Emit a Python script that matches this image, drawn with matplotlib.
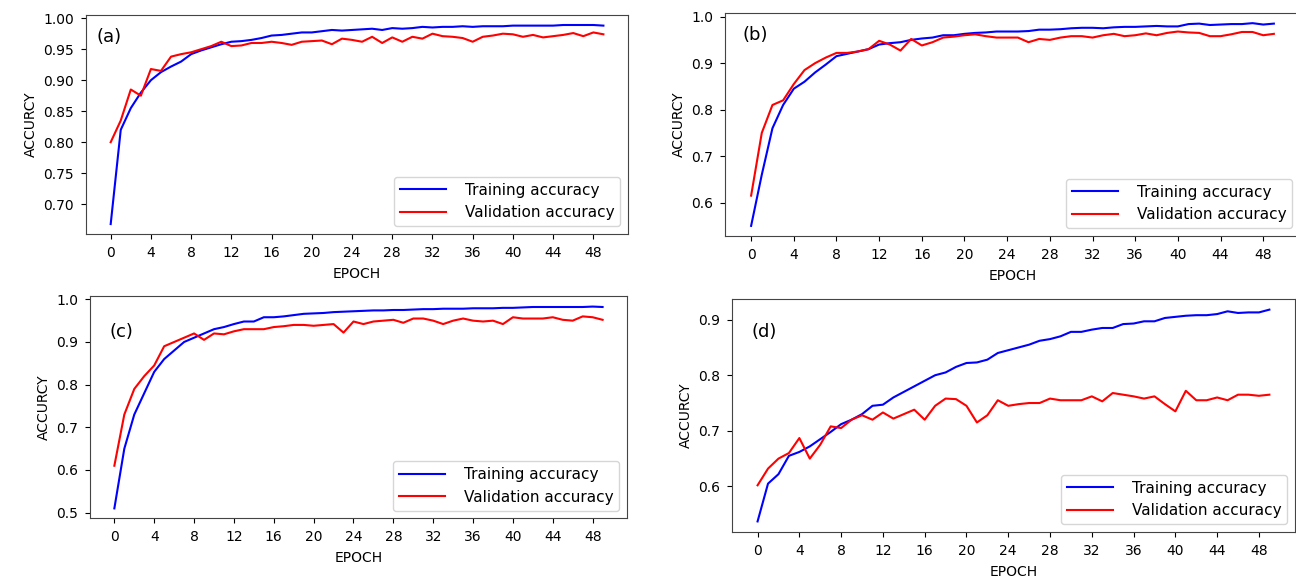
import numpy as np
import matplotlib.pyplot as plt

epochs = np.arange(50)

train_a = [0.668, 0.82, 0.855, 0.88, 0.90, 0.913, 0.922, 0.93, 0.942, 0.948,
           0.953, 0.958, 0.962, 0.963, 0.965, 0.968, 0.972, 0.973, 0.975, 0.977,
           0.977, 0.979, 0.981, 0.980, 0.981, 0.982, 0.983, 0.981, 0.984, 0.983,
           0.984, 0.986, 0.985, 0.986, 0.986, 0.987, 0.986, 0.987, 0.987, 0.987,
           0.988, 0.988, 0.988, 0.988, 0.988, 0.989, 0.989, 0.989, 0.989, 0.988]
val_a = [0.80, 0.835, 0.885, 0.875, 0.918, 0.915, 0.938, 0.942, 0.945, 0.95,
         0.955, 0.962, 0.955, 0.956, 0.96, 0.96, 0.962, 0.96, 0.957, 0.962,
         0.963, 0.964, 0.958, 0.967, 0.965, 0.962, 0.97, 0.96, 0.969, 0.962,
         0.97, 0.967, 0.975, 0.971, 0.97, 0.968, 0.962, 0.97, 0.972, 0.975,
         0.974, 0.97, 0.973, 0.969, 0.971, 0.973, 0.976, 0.971, 0.977, 0.974]

train_b = [0.55, 0.66, 0.76, 0.81, 0.845, 0.86, 0.88, 0.897, 0.915, 0.92,
           0.925, 0.93, 0.94, 0.943, 0.945, 0.95, 0.953, 0.955, 0.96, 0.96,
           0.963, 0.965, 0.966, 0.968, 0.968, 0.968, 0.969, 0.972, 0.972, 0.973,
           0.975, 0.976, 0.976, 0.975, 0.977, 0.978, 0.978, 0.979, 0.98, 0.979,
           0.979, 0.984, 0.985, 0.982, 0.983, 0.984, 0.984, 0.986, 0.983, 0.985]
val_b = [0.615, 0.75, 0.81, 0.82, 0.855, 0.885, 0.90, 0.912, 0.922, 0.922,
         0.925, 0.93, 0.948, 0.94, 0.927, 0.952, 0.938, 0.945, 0.955, 0.957,
         0.96, 0.962, 0.958, 0.955, 0.955, 0.955, 0.945, 0.952, 0.95, 0.955,
         0.958, 0.958, 0.955, 0.96, 0.963, 0.958, 0.96, 0.964, 0.96, 0.965,
         0.968, 0.966, 0.965, 0.958, 0.958, 0.962, 0.967, 0.967, 0.96, 0.963]

train_c = [0.51, 0.65, 0.73, 0.78, 0.83, 0.86, 0.88, 0.90, 0.91, 0.92,
           0.93, 0.935, 0.942, 0.948, 0.948, 0.958, 0.958, 0.96, 0.963, 0.966,
           0.967, 0.968, 0.97, 0.971, 0.972, 0.973, 0.974, 0.974, 0.975, 0.975,
           0.976, 0.977, 0.977, 0.978, 0.978, 0.978, 0.979, 0.979, 0.979, 0.98,
           0.98, 0.981, 0.982, 0.982, 0.982, 0.982, 0.982, 0.982, 0.983, 0.982]
val_c = [0.61, 0.73, 0.79, 0.82, 0.845, 0.89, 0.90, 0.91, 0.92, 0.905,
         0.92, 0.918, 0.925, 0.93, 0.93, 0.93, 0.935, 0.937, 0.94, 0.94,
         0.938, 0.94, 0.942, 0.922, 0.948, 0.942, 0.948, 0.95, 0.952, 0.945,
         0.955, 0.955, 0.95, 0.942, 0.95, 0.955, 0.95, 0.948, 0.95, 0.942,
         0.958, 0.955, 0.955, 0.955, 0.958, 0.952, 0.95, 0.96, 0.958, 0.952]

train_d = [0.537, 0.605, 0.622, 0.655, 0.662, 0.672, 0.685, 0.698, 0.712, 0.72,
           0.73, 0.745, 0.747, 0.76, 0.77, 0.78, 0.79, 0.80, 0.805, 0.815,
           0.822, 0.823, 0.828, 0.84, 0.845, 0.85, 0.855, 0.862, 0.865, 0.87,
           0.878, 0.878, 0.882, 0.885, 0.885, 0.892, 0.893, 0.897, 0.897, 0.903,
           0.905, 0.907, 0.908, 0.908, 0.91, 0.915, 0.912, 0.913, 0.913, 0.918]
val_d = [0.602, 0.632, 0.65, 0.66, 0.687, 0.65, 0.675, 0.708, 0.705, 0.72,
         0.728, 0.72, 0.733, 0.722, 0.73, 0.738, 0.72, 0.745, 0.758, 0.757,
         0.745, 0.715, 0.728, 0.755, 0.745, 0.748, 0.75, 0.75, 0.758, 0.755,
         0.755, 0.755, 0.762, 0.753, 0.768, 0.765, 0.762, 0.758, 0.762, 0.748,
         0.735, 0.772, 0.755, 0.755, 0.76, 0.755, 0.765, 0.765, 0.763, 0.765]

panels = ['(a)', '(b)', '(c)', '(d)']
train = [train_a, train_b, train_c, train_d]
val = [val_a, val_b, val_c, val_d]
xticks = np.arange(0, 49, 4)

fig = plt.figure(figsize=(12.96, 5.81), dpi=100)
# hand placed axes, the panels are not on a regular grid
rects = [[0.0664, 0.5972, 0.4182, 0.3769],
         [0.5594, 0.5938, 0.4437, 0.3838],
         [0.0694, 0.1076, 0.4144, 0.3821],
         [0.5648, 0.0843, 0.4344, 0.4010]]
label_pos = [(0.02, 0.90), (0.03, 0.90), (0.037, 0.84), (0.034, 0.86)]

for i in range(4):
    ax = fig.add_axes(rects[i])
    ax.plot(epochs, train[i], color='blue', lw=1.5, label='Training accuracy')
    ax.plot(epochs, val[i], color='red', lw=1.5, label='Validation accuracy')
    ax.set_xticks(xticks)
    if i == 0:
        ax.set_yticks(np.arange(0.70, 1.001, 0.05))
        ax.yaxis.set_major_formatter(plt.FormatStrFormatter('%.2f'))
    ax.set_xlabel('EPOCH', fontsize=10, labelpad=5)
    ax.set_ylabel('ACCURCY', fontsize=10)
    ax.tick_params(labelsize=10, pad=5)
    ax.legend(loc='lower right', fontsize=11, handlelength=3.0, handletextpad=1.2)
    ax.text(label_pos[i][0], label_pos[i][1], panels[i], transform=ax.transAxes,
            fontsize=13, va='center', ha='left')
    for s in ax.spines.values():
        s.set_color('#444444')

fig.savefig('out.png', dpi=100)
